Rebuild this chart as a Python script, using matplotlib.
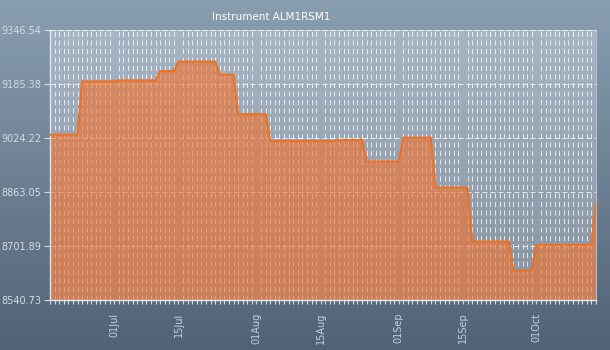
import numpy as np
import pandas as pd
import matplotlib
matplotlib.use("Agg")
import matplotlib.pyplot as plt
import matplotlib.dates as mdates
from matplotlib.ticker import FixedLocator, FormatStrFormatter

# closing levels where the price changed (flat in between)
dates = ["2013-06-17", "2013-06-23", "2013-06-24", "2013-07-01", "2013-07-02",
         "2013-07-10", "2013-07-11", "2013-07-14", "2013-07-15", "2013-07-23",
         "2013-07-24", "2013-07-27", "2013-07-28", "2013-08-03", "2013-08-04",
         "2013-08-18", "2013-08-19", "2013-08-24", "2013-08-25", "2013-09-01",
         "2013-09-02", "2013-09-08", "2013-09-09", "2013-09-16", "2013-09-17",
         "2013-09-25", "2013-09-26", "2013-09-30", "2013-10-01", "2013-10-13",
         "2013-10-14"]
prices = [9034, 9034, 9193, 9193, 9196,
          9196, 9224, 9224, 9252, 9252,
          9213, 9213, 9095, 9095, 9015,
          9015, 9018, 9018, 8954, 8954,
          9025, 9025, 8876, 8876, 8715,
          8715, 8628, 8628, 8705, 8705,
          8834]
y_ticks = [8540.73, 8701.89, 8863.05, 9024.22, 9185.38, 9346.54]
title = "Instrument ALM1RSM1"

x = pd.to_datetime(dates)
y = np.array(prices, dtype=float)

fig = plt.figure(figsize=(6.1, 3.5), dpi=100)

# vertical gradient behind everything
bg = fig.add_axes([0, 0, 1, 1], zorder=-10)
top = np.array([138, 158, 178]) / 255
bottom = np.array([80, 98, 118]) / 255
t = np.linspace(0, 1, 256)[:, None]
grad = (top * (1 - t) + bottom * t)[:, None, :].repeat(2, axis=1)
bg.imshow(grad, aspect="auto", extent=[0, 1, 0, 1])
bg.axis("off")

ax = fig.add_axes([50 / 610, 50 / 350, 546 / 610, 270 / 350])
ax.set_facecolor((1, 1, 1, 0.28))

ax.fill_between(x, y, y_ticks[0], color="#f07430", alpha=0.64, lw=0, zorder=1)
ax.plot(x, y, color="#f07020", lw=1.5, zorder=3)

ax.set_xlim(x[0], x[-1])
ax.set_ylim(y_ticks[0], y_ticks[-1])
ax.yaxis.set_major_locator(FixedLocator(y_ticks))
ax.yaxis.set_major_formatter(FormatStrFormatter("%.2f"))

ax.xaxis.set_major_locator(mdates.DayLocator(bymonthday=[1, 15]))
ax.xaxis.set_major_formatter(mdates.DateFormatter("%d%b"))
ax.xaxis.set_minor_locator(mdates.DayLocator())

ax.set_axisbelow(True)
ax.grid(False)
ax.grid(True, which="minor", axis="x", color="white", alpha=0.75,
        lw=0.72, linestyle=(0, (5, 3.5)))
ax.grid(True, which="major", axis="y", color="white", alpha=0.75,
        lw=0.72, linestyle=(0, (5, 3)))

tick_col = "#d4dbe2"
ax.tick_params(axis="x", which="both", direction="out", length=3,
               width=0.8, color=tick_col)
ax.tick_params(axis="x", which="major", labelsize=7, labelcolor="#c8d0d8",
               labelrotation=90, pad=6)
ax.tick_params(axis="y", direction="out", length=4, width=0.8,
               color=tick_col, labelsize=7, labelcolor="#d4dbe2", pad=2)

for side in ["left", "bottom"]:
    ax.spines[side].set_color("#e2e6ea")
    ax.spines[side].set_linewidth(1)
ax.spines["right"].set_color("#b4bcc4")
ax.spines["top"].set_color((1, 1, 1, 0.3))

fig.text(271 / 610, 1 - 17 / 350, title, ha="center", va="center",
         fontsize=7.5, color="white")

fig.savefig("out.png", dpi=100)
